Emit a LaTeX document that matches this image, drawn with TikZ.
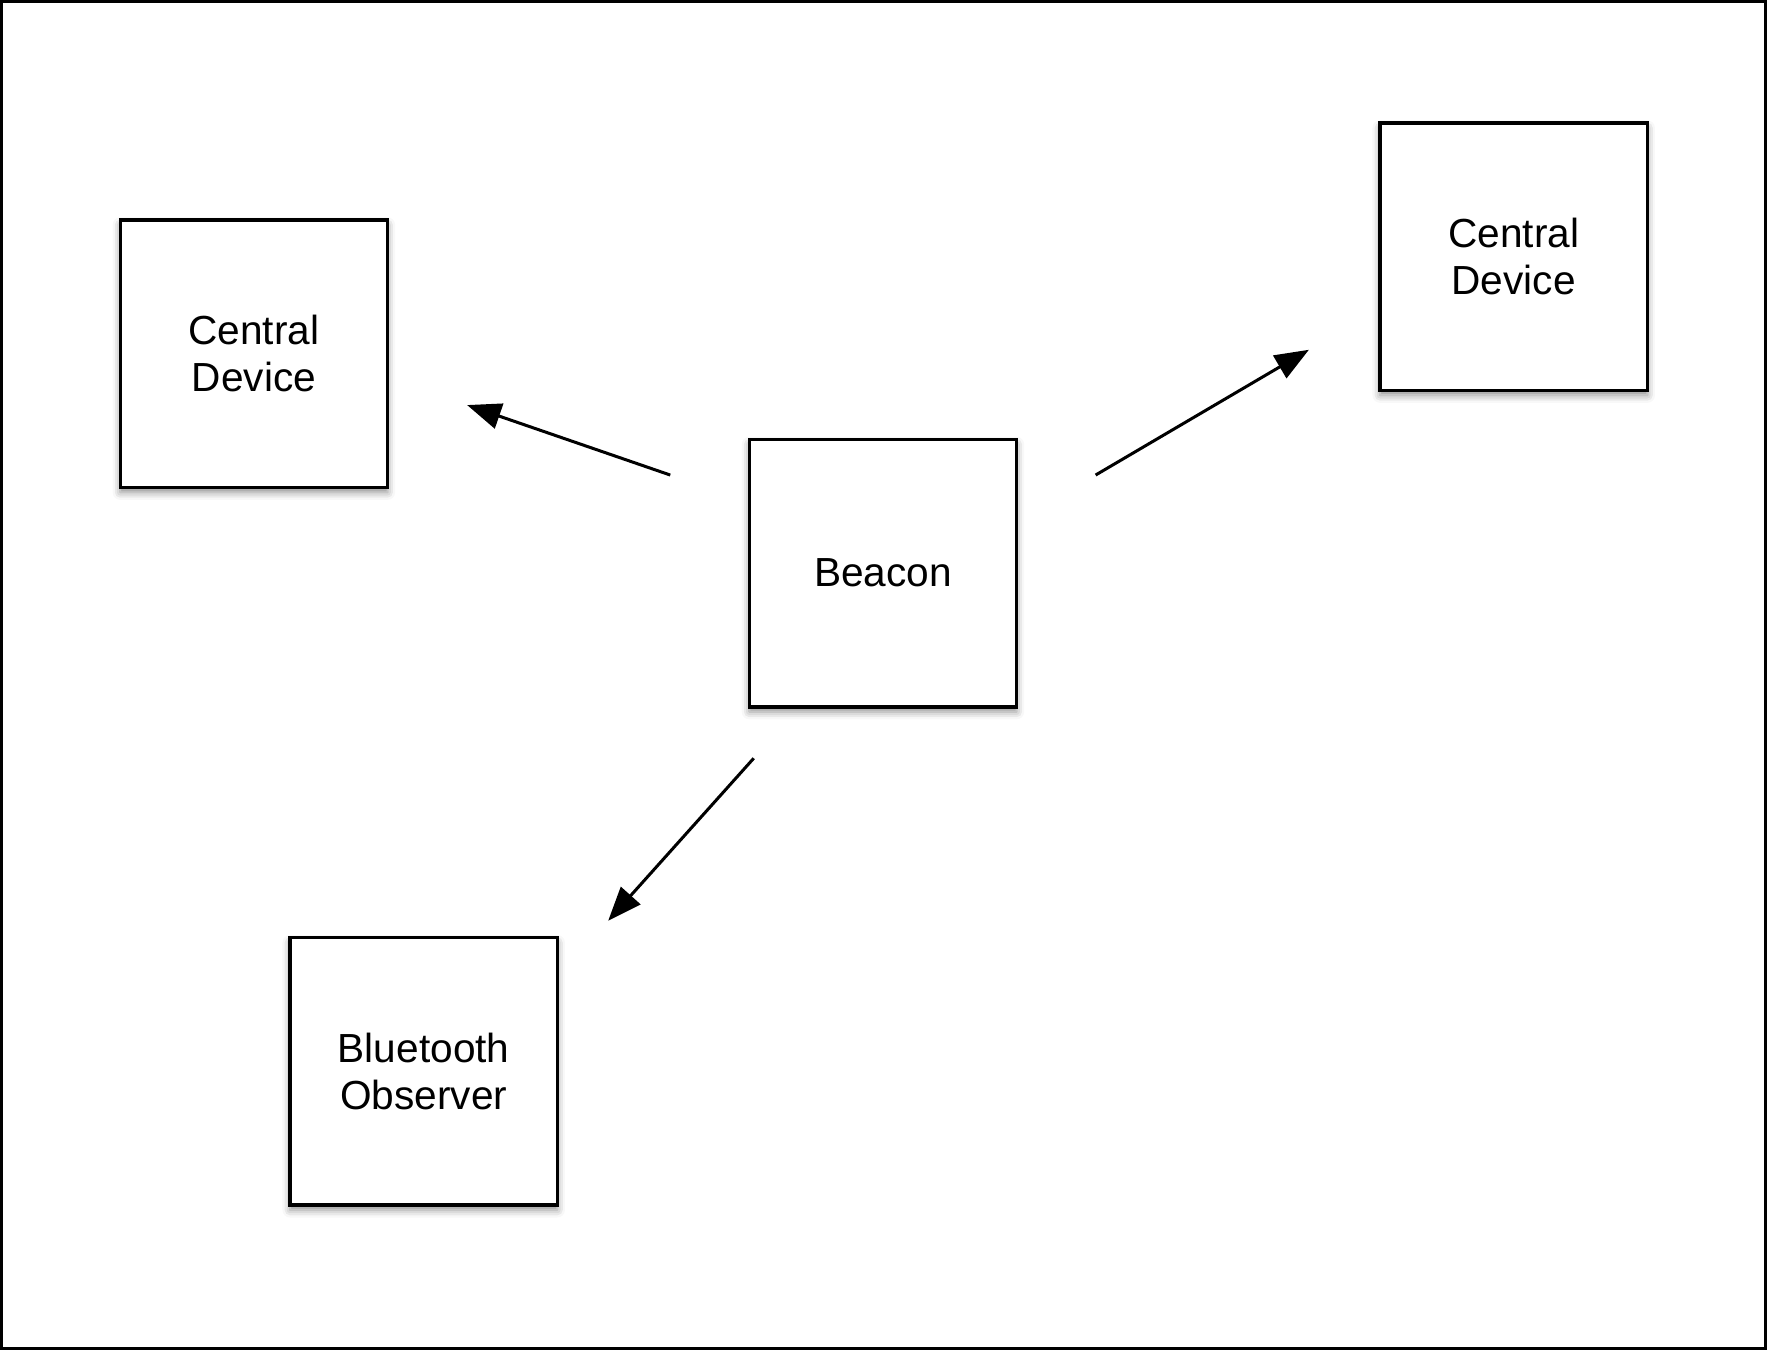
\documentclass[tikz,border=0pt]{standalone}
\usepackage{fontspec}
\setmainfont{Liberation Sans}
\usetikzlibrary{arrows.meta,shadows.blur}
\begin{document}
\begin{tikzpicture}[x=0.3pt,y=-0.3pt,
  devbox/.style={draw=black,line width=0.85pt,fill=white,minimum width=71.1pt,minimum height=71.1pt,
    inner sep=0pt,align=center,font=\fontsize{10.8pt}{12.6pt}\selectfont,
    blur shadow={shadow xshift=0pt,shadow yshift=-1.3pt,shadow blur radius=2pt,shadow opacity=45}},
  conn/.style={line width=0.8pt,-{Triangle[length=9pt,width=6.9pt]}}]
\useasboundingbox (0,0) rectangle (1566,1196.6);
\draw[line width=0.85pt] (1.3,1.3) rectangle (1564.7,1195.3);
\node[devbox] (cl) at (225,313.5) {Central\\Device};
\node[devbox] (cr) at (1341.5,227.5) {Central\\Device};
\node[devbox] (beacon) at (782.5,508) {Beacon};
\node[devbox] (obs) at (375.5,949.5) {Bluetooth\\Observer};
\coordinate (a1s) at (594,421);
\coordinate (a1e) at (414,359);
\coordinate (a2s) at (971,421);
\coordinate (a2e) at (1160,310);
\coordinate (a3s) at (668,672);
\coordinate (a3e) at (539,816);
\draw[conn] (a1s) -- (a1e);
\draw[conn] (a2s) -- (a2e);
\draw[conn] (a3s) -- (a3e);
\end{tikzpicture}
\end{document}
